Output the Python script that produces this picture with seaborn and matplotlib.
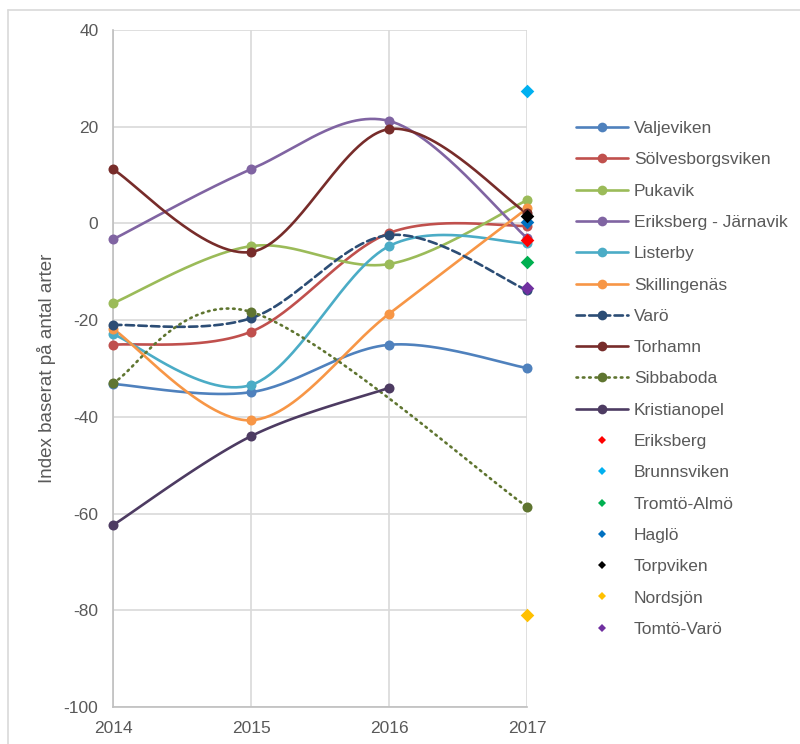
import numpy as np
import pandas as pd
import matplotlib
matplotlib.use("Agg")
import matplotlib.pyplot as plt
import seaborn as sns
from matplotlib.lines import Line2D

# ---- data -------------------------------------------------------------
years = [2014, 2015, 2016, 2017]

valjeviken = [-33.2, -34.9, -25.1, -29.9]
solvesborgsviken = [-25.1, -22.4, -2.0, -0.5]
pukavik = [-16.5, -4.7, -8.4, 4.8]
eriksberg_jarnavik = [-3.3, 11.2, 21.2, -3.0]
listerby = [-22.9, -33.4, -4.7, -4.1]
skillingenas = [-21.8, -40.7, -18.7, 3.1]
varo = [-21.0, -19.6, -2.4, -13.8]
torhamn = [11.2, -5.9, 19.5, 2.1]
sibbaboda = [-33.0, -18.3, np.nan, -58.6]
kristianopel = [-62.4, -44.0, -34.0, np.nan]

line_names = ["Valjeviken", "Sölvesborgsviken", "Pukavik", "Eriksberg - Järnavik",
              "Listerby", "Skillingenäs", "Varö", "Torhamn", "Sibbaboda", "Kristianopel"]
line_values = [valjeviken, solvesborgsviken, pukavik, eriksberg_jarnavik, listerby,
               skillingenas, varo, torhamn, sibbaboda, kristianopel]
line_colors = ["#4F81BD", "#C0504D", "#9BBB59", "#8064A2", "#4BACC6",
               "#F79646", "#2C4D75", "#772C2A", "#5F7530", "#4D3B62"]
line_styles = ["-", "-", "-", "-", "-", "-", (0, (3.2, 1.6)), "-", (0, (0.6, 1.8)), "-"]

# single sites only measured in 2017
point_names = ["Eriksberg", "Brunnsviken", "Tromtö-Almö", "Haglö", "Torpviken",
               "Nordsjön", "Tomtö-Varö"]
point_year = 2017
point_values = [-3.4, 27.4, -7.9, 0.2, 1.6, -81.0, -13.4]
point_colors = ["#FF0000", "#00B0F0", "#00B050", "#0070C0", "#000000",
                "#FFC000", "#7030A0"]

y_ticks = [40, 20, 0, -20, -40, -60, -80, -100]
y_label = "Index baserat på antal arter"


def smooth(xs, ys, n=60):
    """Smoothed curve through the points (cubic Bezier, Catmull-Rom style)."""
    P = np.array([(x, y) for x, y in zip(xs, ys) if not np.isnan(y)], float)
    out = []
    for i in range(len(P) - 1):
        p0 = P[i - 1] if i > 0 else P[i]
        p1, p2 = P[i], P[i + 1]
        p3 = P[i + 2] if i + 2 < len(P) else P[i + 1]
        c1 = p1 + (p2 - p0) / 6
        c2 = p2 - (p3 - p1) / 6
        t = np.linspace(0, 1, n)[:, None]
        seg = (1 - t) ** 3 * p1 + 3 * (1 - t) ** 2 * t * c1 + 3 * (1 - t) * t ** 2 * c2 + t ** 3 * p2
        out.append(seg if i == 0 else seg[1:])
    S = np.vstack(out)
    return S[:, 0], S[:, 1]


# ---- figure -----------------------------------------------------------
sns.set_theme(style="white")
plt.rcParams["font.family"] = ["Liberation Sans", "DejaVu Sans"]
plt.rcParams["axes.unicode_minus"] = False
text_color = "#595959"
grid_color = "#D9D9D9"

W, H = 800, 744
fig = plt.figure(figsize=(W / 100, H / 100), dpi=100)
ax = fig.add_axes([113 / W, 1 - 707 / H, (527 - 113) / W, (707 - 30) / H])

lw = 1.9
for name, vals, col, ls in zip(line_names, line_values, line_colors, line_styles):
    sx, sy = smooth(years, vals)
    curve = pd.DataFrame({"year": sx, "index": sy})
    sns.lineplot(data=curve, x="year", y="index", ax=ax, color=col, lw=lw,
                 linestyle=ls, sort=False, estimator=None, clip_on=False,
                 dash_capstyle="round")
    pts = pd.DataFrame({"year": years, "index": vals}).dropna()
    sns.scatterplot(data=pts, x="year", y="index", ax=ax, color=col, s=52,
                    edgecolor=col, linewidth=0, clip_on=False, zorder=3)

for name, val, col in zip(point_names, point_values, point_colors):
    pts = pd.DataFrame({"year": [point_year], "index": [val]})
    sns.scatterplot(data=pts, x="year", y="index", ax=ax, color=col, marker="D",
                    s=48, edgecolor=col, linewidth=0, clip_on=False, zorder=4)

ax.set_xlim(2014, 2017)
ax.set_ylim(-100, 40)
ax.set_xticks(years)
ax.set_xticklabels([str(y) for y in years])
ax.set_yticks(y_ticks)
ax.grid(True, color=grid_color, lw=1.2)
ax.set_axisbelow(True)
for side in ["top", "right"]:
    ax.spines[side].set_visible(False)
for side in ["left", "bottom"]:
    ax.spines[side].set_color("#BFBFBF")
    ax.spines[side].set_linewidth(1.2)
ax.tick_params(axis="both", length=0, labelsize=12.5, labelcolor=text_color)
ax.tick_params(axis="y", pad=10.5)
ax.tick_params(axis="x", pad=10)
ax.set_xlabel("")
ax.set_ylabel(y_label, fontsize=13.5, color=text_color, labelpad=5.5)

# legend
handles = []
for col, ls in zip(line_colors, line_styles):
    handles.append(Line2D([], [], color=col, lw=lw, linestyle=ls, marker="o",
                          markersize=7, markeredgewidth=0, dash_capstyle="round"))
for col in point_colors:
    handles.append(Line2D([], [], color=col, linestyle="none", marker="D",
                          markersize=4.2, markeredgewidth=0))
leg = fig.legend(handles, line_names + point_names, loc="upper left",
                 bbox_to_anchor=(569 / W, 1 - 114 / H), frameon=False,
                 fontsize=12.5, handlelength=3.0, handletextpad=0.35,
                 labelspacing=0.93, borderaxespad=0)
for t in leg.get_texts():
    t.set_color(text_color)

# outer chart frame
fig.add_artist(Line2D([8 / W, 8 / W], [0, 1 - 10 / H], color=grid_color, lw=1.2))
fig.add_artist(Line2D([8 / W, 1], [1 - 10 / H, 1 - 10 / H], color=grid_color, lw=1.2))

fig.savefig("out.png", dpi=100)
